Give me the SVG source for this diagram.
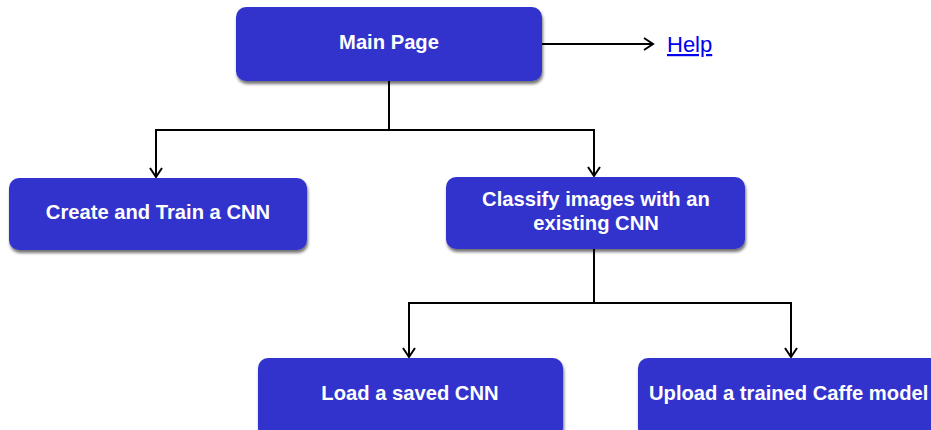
<svg xmlns="http://www.w3.org/2000/svg" width="931" height="430" viewBox="0 0 931 430">
<defs>
<filter id="sh" x="-10%" y="-10%" width="120%" height="130%">
<feDropShadow dx="1" dy="3" stdDeviation="1.5" flood-color="#000" flood-opacity="0.55"/>
</filter>
<marker id="ar" markerWidth="14" markerHeight="14" refX="11" refY="7" orient="auto" markerUnits="userSpaceOnUse">
<path d="M2,1 L11,7 L2,13" fill="none" stroke="#000" stroke-width="2"/>
</marker>
</defs>
<style>
.box{fill:#3333CC;filter:url(#sh);}
.lbl{font-family:"Liberation Sans",Arial,sans-serif;font-weight:bold;font-size:20.2px;fill:#fff;text-anchor:middle;}
.con{fill:none;stroke:#000;stroke-width:2;}
</style>
<rect width="931" height="430" fill="#fff"/>
<g id="connectors">
<path class="con" d="M542,44 H653" marker-end="url(#ar)"/>
<path class="con" d="M389,81 V130"/>
<path class="con" d="M156,130 H594"/>
<path class="con" d="M156,129 V177" marker-end="url(#ar)"/>
<path class="con" d="M594,129 V176" marker-end="url(#ar)"/>
<path class="con" d="M594,249 V303"/>
<path class="con" d="M409,303 H791"/>
<path class="con" d="M409,302 V357" marker-end="url(#ar)"/>
<path class="con" d="M791,302 V357" marker-end="url(#ar)"/>
</g>
<g id="main">
<rect class="box" x="236" y="7" width="306" height="74" rx="10"/>
<text class="lbl" x="389" y="49">Main Page</text>
</g>
<g id="help">
<text x="667" y="52" font-family="Liberation Sans,Arial,sans-serif" font-size="22" fill="#0000EE" text-decoration="underline">Help</text>
</g>
<g id="create">
<rect class="box" x="9" y="178" width="298" height="72" rx="10"/>
<text class="lbl" x="158" y="219">Create and Train a CNN</text>
</g>
<g id="classify">
<rect class="box" x="446" y="177" width="299" height="72" rx="10"/>
<text class="lbl" x="596" y="206">Classify images with an</text>
<text class="lbl" x="596" y="230">existing CNN</text>
</g>
<g id="load">
<rect class="box" x="258" y="358" width="305" height="80" rx="10"/>
<text class="lbl" x="410" y="400">Load a saved CNN</text>
</g>
<g id="upload">
<rect class="box" x="638" y="358" width="310" height="80" rx="10"/>
<text class="lbl" x="649" y="400" style="text-anchor:start">Upload a trained Caffe model</text>
</g>
</svg>
